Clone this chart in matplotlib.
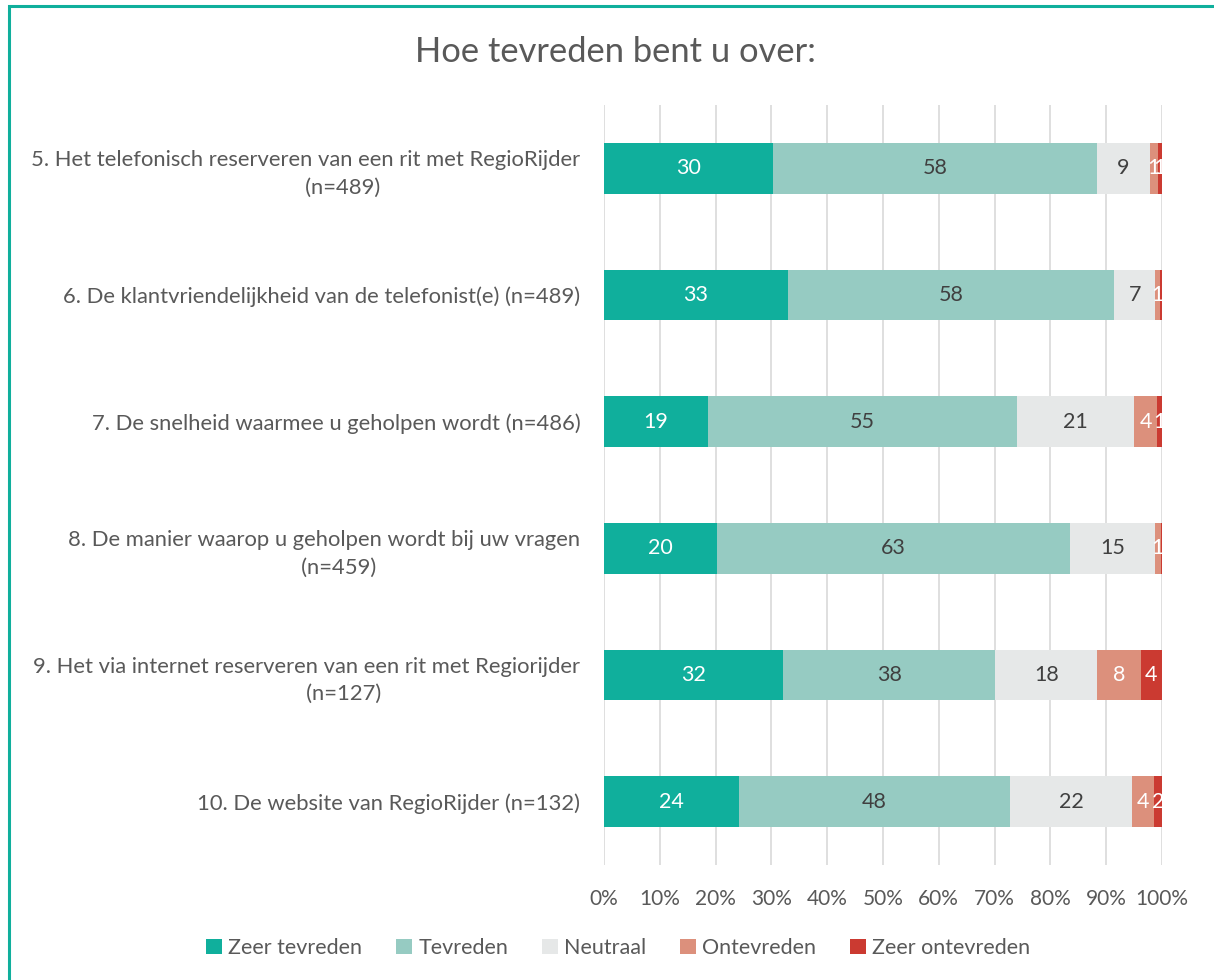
import matplotlib
matplotlib.use("Agg")
import matplotlib.pyplot as plt
from matplotlib.patches import Rectangle, Patch
import numpy as np

plt.rcParams['font.family'] = ['Lato', 'DejaVu Sans']

categories = [
    "5. Het telefonisch reserveren van een rit met RegioRijder\n(n=489)",
    "6. De klantvriendelijkheid van de telefonist(e) (n=489)",
    "7. De snelheid waarmee u geholpen wordt (n=486)",
    "8. De manier waarop u geholpen wordt bij uw vragen\n(n=459)",
    "9. Het via internet reserveren van een rit met Regiorijder\n(n=127)",
    "10. De website van RegioRijder (n=132)",
]
series_names = ["Zeer tevreden", "Tevreden", "Neutraal", "Ontevreden", "Zeer ontevreden"]
zeer_tevreden = [30.3, 32.9, 18.6, 20.3, 32.1, 24.2]
tevreden = [58.1, 58.5, 55.4, 63.2, 38.0, 48.5]
neutraal = [9.4, 7.4, 21.0, 15.2, 18.3, 22.0]
ontevreden = [1.4, 0.8, 4.1, 1.1, 7.8, 3.8]
zeer_ontevreden = [0.8, 0.4, 0.9, 0.2, 3.8, 1.5]
tick_labels = ["0%", "10%", "20%", "30%", "40%", "50%", "60%", "70%", "80%", "90%", "100%"]

colors = ["#10AF9C", "#96CBC2", "#E6E8E8", "#DC907C", "#CB3A31"]
label_colors = ["white", "#404040", "#404040", "white", "white"]

# second-line indent (number of spaces) to mimic the reference's wrapped-line placement
second_line_indent = [13, 0, 0, 5, 13, 0]

fig = plt.figure(figsize=(12.14, 9.8), dpi=100)
# teal border
fig.patches.append(Rectangle((8.5/1214, -0.1), 1.2, 1.1 - 6.5/980,
                             transform=fig.transFigure, fill=False,
                             edgecolor="#10AF9C", linewidth=2.2, zorder=10))

ax = fig.add_axes([604/1214, 1-865/980, 558/1214, 760/980])
data = [zeer_tevreden, tevreden, neutraal, ontevreden, zeer_ontevreden]
y = np.arange(len(categories))
left = np.zeros(len(categories))
for s, vals in enumerate(data):
    vals = np.array(vals)
    ax.barh(y, vals, left=left, height=0.4, color=colors[s], label=series_names[s], zorder=2)
    for i, v in enumerate(vals):
        if v >= 0.5:
            ax.text(left[i] + v/2, y[i], f"{v:.0f}", ha="center", va="center",
                    color=label_colors[s], fontsize=15.5, zorder=3)
    left += vals

ylabels = []
for cat, n in zip(categories, second_line_indent):
    if "\n" in cat:
        a, b = cat.split("\n")
        cat = a + "\n" + "\u00a0" * n + b
    ylabels.append(cat)

ax.set_xlim(0, 100)
ax.set_ylim(len(categories) - 0.5, -0.5)
ax.set_xticks(np.arange(0, 101, 10))
ax.set_xticklabels(tick_labels, fontsize=15, color="#595959")
ax.set_yticks(y)
ax.set_yticklabels(ylabels, fontsize=15.8, color="#595959", multialignment="center",
                   linespacing=1.45)
ax.tick_params(axis="both", length=0)
ax.tick_params(axis="x", pad=17)
ax.tick_params(axis="y", pad=17)
ax.grid(axis="x", color="#D9D9D9", linewidth=1.2, zorder=0)
ax.set_axisbelow(True)
for sp in ax.spines.values():
    sp.set_visible(False)

fig.text(615/1214, 1-52/980, "Hoe tevreden bent u over:", ha="center", va="center",
         fontsize=24.8, color="#595959")

handles = [Patch(facecolor=c, edgecolor="none") for c in colors]
fig.legend(handles, series_names, loc="center", bbox_to_anchor=(618/1214, 1-948/980),
           ncol=5, frameon=False, fontsize=15.5, labelcolor="#595959",
           handlelength=0.75, handleheight=0.75, handletextpad=0.3, columnspacing=1.55)

fig.savefig("out.png", dpi=100)
